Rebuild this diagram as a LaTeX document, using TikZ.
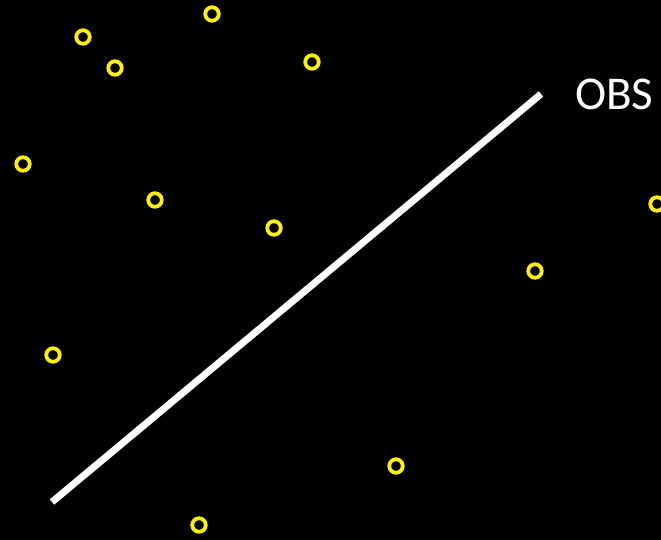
\documentclass[tikz,border=0pt]{standalone}
\usepackage{fontspec}
\setmainfont{Carlito}
\begin{document}
\begin{tikzpicture}[x=1pt,y=-1pt,
  pt/.style={circle,draw=yellow,line width=3.8pt,minimum size=13.5pt,inner sep=0pt},
  obsline/.style={draw=white,line width=7pt}]
\fill[black] (0,0) rectangle (661,540);
\useasboundingbox (0,0) rectangle (661,540);
\clip (0,0) rectangle (661,540);
\coordinate (a) at (52,502);
\coordinate (b) at (541,94);
\draw[obsline] (a) -- (b);
\node[text=white,font=\fontsize{47}{52}\selectfont,anchor=west,inner sep=0pt] (obs) at (575,94) {OBS};
\node[pt] (p1) at (212,14) {};
\node[pt] (p2) at (83,37) {};
\node[pt] (p3) at (115,68) {};
\node[pt] (p4) at (312,62) {};
\node[pt] (p5) at (23,164) {};
\node[pt] (p6) at (155,200) {};
\node[pt] (p7) at (274,228) {};
\node[pt] (p8) at (657,204) {};
\node[pt] (p9) at (535,271) {};
\node[pt] (p10) at (53,355) {};
\node[pt] (p11) at (396,466) {};
\node[pt] (p12) at (199,525) {};
\end{tikzpicture}
\end{document}
